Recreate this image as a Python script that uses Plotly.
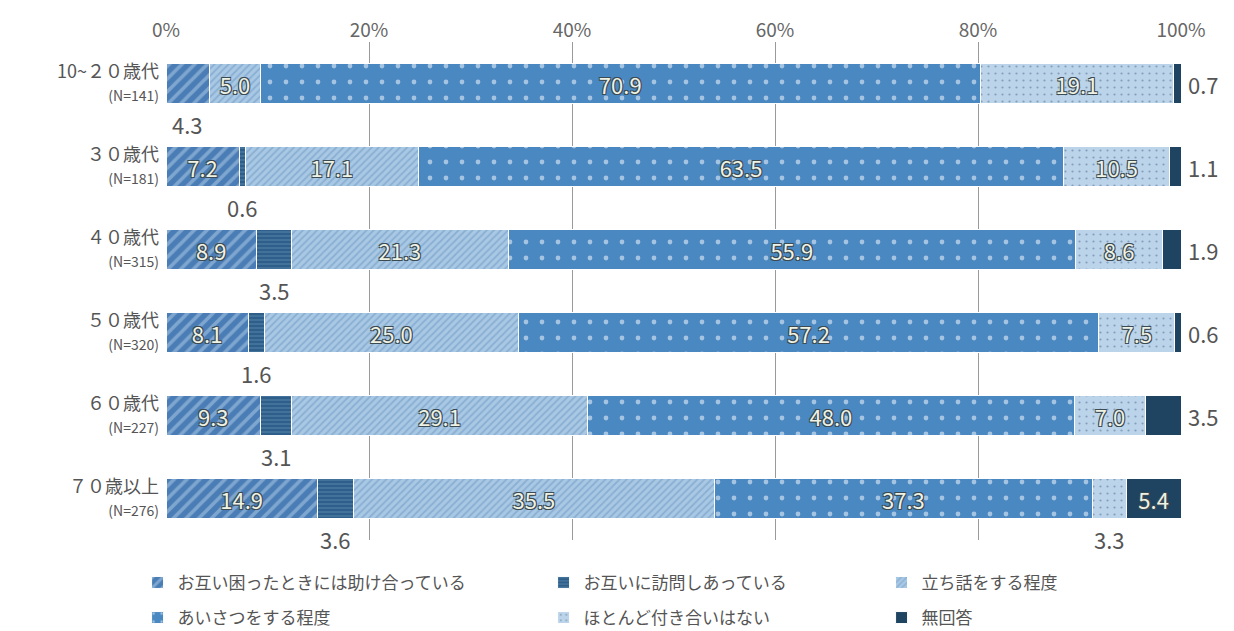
import plotly.graph_objects as go

categories = ["10~２０歳代", "３０歳代", "４０歳代", "５０歳代", "６０歳代", "７０歳以上"]
sample_sizes = [141, 181, 315, 320, 227, 276]

series_names = [
    "お互い困ったときには助け合っている",
    "お互いに訪問しあっている",
    "立ち話をする程度",
    "あいさつをする程度",
    "ほとんど付き合いはない",
    "無回答",
]
help_each_other = [4.3, 7.2, 8.9, 8.1, 9.3, 14.9]
visit_each_other = [0.0, 0.6, 3.5, 1.6, 3.1, 3.6]
chat_standing = [5.0, 17.1, 21.3, 25.0, 29.1, 35.5]
greeting_only = [70.9, 63.5, 55.9, 57.2, 48.0, 37.3]
hardly_any = [19.1, 10.5, 8.6, 7.5, 7.0, 3.3]
no_answer = [0.7, 1.1, 1.9, 0.6, 3.5, 5.4]

x_ticks = [0, 20, 40, 60, 80, 100]
x_tick_labels = ["0%", "20%", "40%", "60%", "80%", "100%"]

series_values = [help_each_other, visit_each_other, chat_standing,
                 greeting_only, hardly_any, no_answer]

FONT = "Noto Sans CJK JP"
TEXT_COL = "#555555"

styles = [
    dict(color="#4a7db5", pattern=dict(shape="/", bgcolor="#4a7db5", fgcolor="#b3cfea", size=9, solidity=0.4)),
    dict(color="#2e5f8a", pattern=dict(shape="-", bgcolor="#2e5f8a", fgcolor="#7fa6c8", size=4, solidity=0.25)),
    dict(color="#9dbfdf", pattern=dict(shape="/", bgcolor="#a9c8e4", fgcolor="#6a96c2", size=5, solidity=0.35)),
    dict(color="#4a88c2", pattern=dict(shape=".", bgcolor="#4a88c2", fgcolor="#ffffff", size=16, solidity=0.07)),
    dict(color="#b9d2e8", pattern=dict(shape=".", bgcolor="#bcd4ea", fgcolor="#4a6a88", size=7, solidity=0.08)),
    dict(color="#1f4461"),
]
legend_ids = ["legend", "legend2", "legend3", "legend", "legend2", "legend3"]

y_labels = [f"{c}<br><span style='font-size:14px'>(N={n})</span>"
            for c, n in zip(categories, sample_sizes)]

INSIDE_MIN = 4.5
outline = "-1px -1px 0 #3c4a52, 1px -1px 0 #3c4a52, -1px 1px 0 #3c4a52, 1px 1px 0 #3c4a52"

fig = go.Figure()
for i, (name, vals) in enumerate(zip(series_names, series_values)):
    texts = [f"{v:.1f}" if v >= INSIDE_MIN else "" for v in vals]
    fig.add_trace(go.Bar(
        y=y_labels, x=vals, name=name, orientation="h",
        marker=dict(**styles[i], line=dict(color="white", width=1)),
        text=texts, textposition="inside", insidetextanchor="middle",
        textfont=dict(family=FONT, size=22, color="#eef3e6", shadow=outline),
        textangle=0, constraintext="none",
        legend=legend_ids[i], legendgroup=name, hoverinfo="skip",
    ))

# outside labels for small segments
annotations = []
for r in range(len(categories)):
    cum = 0.0
    for i, vals in enumerate(series_values):
        v = vals[r]
        start = cum
        cum += v
        if v <= 0 or v >= INSIDE_MIN:
            continue
        if i == len(series_values) - 1:
            annotations.append(dict(x=100, y=r, xref="x", yref="y",
                                    text=f"{v:.1f}", showarrow=False, xanchor="left",
                                    xshift=5, font=dict(family=FONT, size=22, color=TEXT_COL)))
        else:
            annotations.append(dict(x=start + v / 2, y=r, xref="x", yref="y",
                                    text=f"{v:.1f}", showarrow=False, xanchor="center",
                                    yshift=-40, font=dict(family=FONT, size=22, color=TEXT_COL)))

legend_common = dict(orientation="v", yanchor="top", xanchor="left", traceorder="grouped",
                     font=dict(family=FONT, size=17, color=TEXT_COL),
                     bgcolor="rgba(0,0,0,0)", tracegroupgap=10, itemclick=False)

fig.update_layout(
    width=1234, height=631,
    barmode="stack", bargap=0.52,
    plot_bgcolor="white", paper_bgcolor="white",
    margin=dict(l=158, r=61, t=34, b=99, autoexpand=False),
    font=dict(family=FONT, color=TEXT_COL),
    xaxis=dict(range=[0, 100], side="top", tickvals=x_ticks, ticktext=x_tick_labels,
               tickfont=dict(family=FONT, size=19, color="#666666"), automargin=False,
               showgrid=True, gridcolor="#9a9a9a", gridwidth=1, zeroline=False,
               showline=False, ticks="", fixedrange=True),
    yaxis=dict(range=[len(categories) - 0.5, -0.5], tickfont=dict(family=FONT, size=18, color=TEXT_COL),
               showgrid=False, showline=False, ticks="", ticklabelstandoff=6,
               automargin=False),
    legend=dict(x=-0.028, y=-0.05, **legend_common),
    legend2=dict(x=0.372, y=-0.05, **legend_common),
    legend3=dict(x=0.705, y=-0.05, **legend_common),
    annotations=annotations,
)

fig.write_html("out.html")
